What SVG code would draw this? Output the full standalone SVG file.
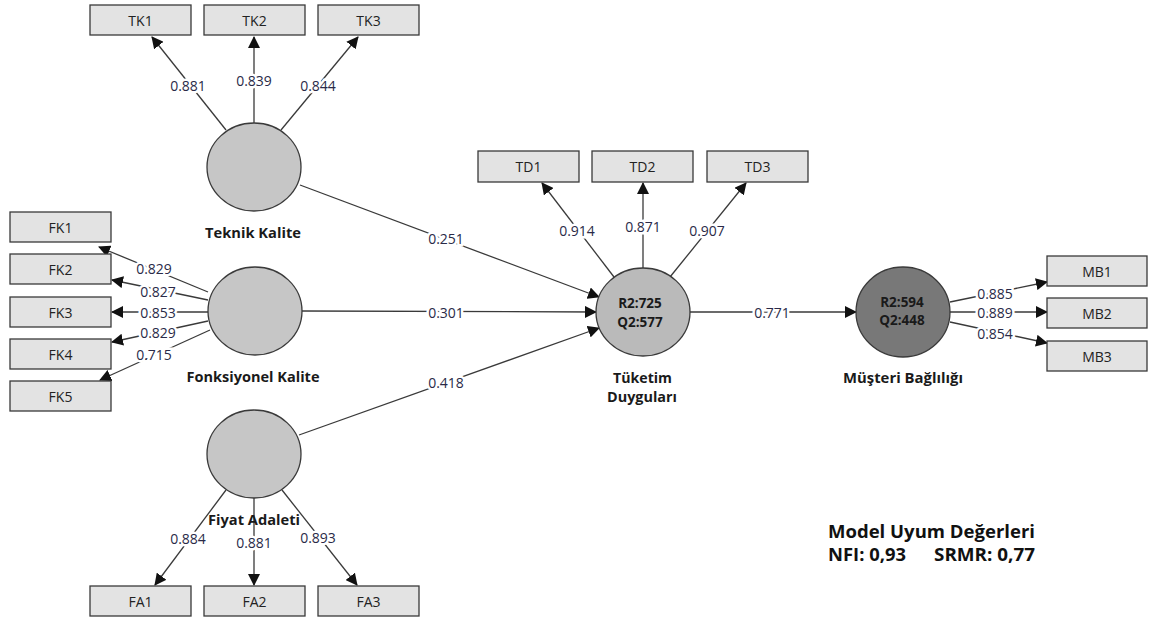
<svg xmlns="http://www.w3.org/2000/svg" width="1150" height="621" viewBox="0 0 1150 621">
<style>
.box{fill:#e3e3e3;stroke:#3a3a3a;stroke-width:1.3}
.bt{font-family:"Open Sans","Noto Sans",sans-serif;font-size:14px;fill:#222;text-anchor:middle;dominant-baseline:central}
.lv{fill:#c6c6c6;stroke:#3a3a3a;stroke-width:1.3}
.lvt{fill:#bababa;stroke:#3a3a3a;stroke-width:1.3}
.lvd{fill:#787878;stroke:#3a3a3a;stroke-width:1.3}
.nl{font-family:"Open Sans","Noto Sans",sans-serif;font-size:14px;font-weight:bold;fill:#1a1a1a;text-anchor:middle;dominant-baseline:central}
.rq{font-family:"Open Sans","Noto Sans",sans-serif;font-size:13.5px;font-weight:bold;fill:#1a1a1a;text-anchor:middle;dominant-baseline:central}
.ln{stroke:#3a3a3a;stroke-width:1.3;fill:none;marker-end:url(#ah)}
.lb{font-family:"Open Sans","Noto Sans",sans-serif;font-size:14px;fill:#2a2a48;text-anchor:middle;dominant-baseline:central;stroke:#fff;stroke-width:5;paint-order:stroke}
.fit{font-family:"Open Sans","Noto Sans",sans-serif;font-size:17px;font-weight:bold;fill:#111}
</style>
<defs>
<marker id="ah" markerUnits="userSpaceOnUse" markerWidth="12" markerHeight="12" viewBox="0 0 12 12" refX="11" refY="6" orient="auto">
<path d="M0,0 L12,6 L0,12 z" fill="#111"/>
</marker>
</defs>
<rect width="1150" height="621" fill="#fff"/>

<g id="connectors">
<line class="ln" x1="226" y1="130" x2="152" y2="37"/>
<line class="ln" x1="254" y1="123" x2="254" y2="37"/>
<line class="ln" x1="281" y1="130" x2="358" y2="37"/>
<line class="ln" x1="208" y1="292" x2="99" y2="247"/>
<line class="ln" x1="208" y1="300" x2="112" y2="280"/>
<line class="ln" x1="208" y1="312" x2="112" y2="312"/>
<line class="ln" x1="208" y1="321" x2="112" y2="342"/>
<line class="ln" x1="210" y1="330" x2="100" y2="380"/>
<line class="ln" x1="226" y1="490" x2="155" y2="585"/>
<line class="ln" x1="254" y1="497" x2="254" y2="585"/>
<line class="ln" x1="282" y1="490" x2="357" y2="585"/>
<line class="ln" x1="614" y1="277" x2="542" y2="183"/>
<line class="ln" x1="643" y1="269" x2="643" y2="183"/>
<line class="ln" x1="670" y1="277" x2="746" y2="183"/>
<line class="ln" x1="300" y1="185" x2="599" y2="297"/>
<line class="ln" x1="302" y1="311" x2="596" y2="312"/>
<line class="ln" x1="299" y1="435" x2="599" y2="328"/>
<line class="ln" x1="690" y1="312" x2="856" y2="312"/>
<line class="ln" x1="950" y1="302" x2="1047" y2="282"/>
<line class="ln" x1="950" y1="312" x2="1047" y2="312"/>
<line class="ln" x1="950" y1="322" x2="1047" y2="343"/>
<text class="lb" x="188" y="85">0.881</text>
<text class="lb" x="254" y="80">0.839</text>
<text class="lb" x="318" y="85">0.844</text>
<text class="lb" x="154" y="268">0.829</text>
<text class="lb" x="158" y="291">0.827</text>
<text class="lb" x="158" y="312">0.853</text>
<text class="lb" x="158" y="332">0.829</text>
<text class="lb" x="154" y="354">0.715</text>
<text class="lb" x="188" y="538">0.884</text>
<text class="lb" x="254" y="542">0.881</text>
<text class="lb" x="318" y="537">0.893</text>
<text class="lb" x="577" y="230">0.914</text>
<text class="lb" x="643" y="226">0.871</text>
<text class="lb" x="707" y="230">0.907</text>
<text class="lb" x="446" y="238">0.251</text>
<text class="lb" x="446" y="312">0.301</text>
<text class="lb" x="446" y="382">0.418</text>
<text class="lb" x="772" y="312">0.771</text>
<text class="lb" x="995" y="293">0.885</text>
<text class="lb" x="995" y="312">0.889</text>
<text class="lb" x="995" y="333">0.854</text>
</g>

<g id="TK1"><rect class="box" x="90" y="5" width="101" height="30"/><text class="bt" x="140.5" y="20">TK1</text></g>
<g id="TK2"><rect class="box" x="204" y="5" width="101" height="30"/><text class="bt" x="254.5" y="20">TK2</text></g>
<g id="TK3"><rect class="box" x="318" y="5" width="101" height="30"/><text class="bt" x="368.5" y="20">TK3</text></g>

<g id="FK1"><rect class="box" x="10" y="212" width="101" height="30"/><text class="bt" x="60.5" y="227">FK1</text></g>
<g id="FK2"><rect class="box" x="10" y="254" width="101" height="30"/><text class="bt" x="60.5" y="269">FK2</text></g>
<g id="FK3"><rect class="box" x="10" y="297" width="101" height="30"/><text class="bt" x="60.5" y="312">FK3</text></g>
<g id="FK4"><rect class="box" x="10" y="339" width="101" height="30"/><text class="bt" x="60.5" y="354">FK4</text></g>
<g id="FK5"><rect class="box" x="10" y="381" width="101" height="30"/><text class="bt" x="60.5" y="396">FK5</text></g>

<g id="FA1"><rect class="box" x="90" y="586" width="101" height="30"/><text class="bt" x="140.5" y="601">FA1</text></g>
<g id="FA2"><rect class="box" x="204" y="586" width="101" height="30"/><text class="bt" x="254.5" y="601">FA2</text></g>
<g id="FA3"><rect class="box" x="318" y="586" width="101" height="30"/><text class="bt" x="368.5" y="601">FA3</text></g>

<g id="TD1"><rect class="box" x="478" y="151" width="101" height="31"/><text class="bt" x="528.5" y="166.5">TD1</text></g>
<g id="TD2"><rect class="box" x="592" y="151" width="101" height="31"/><text class="bt" x="642.5" y="166.5">TD2</text></g>
<g id="TD3"><rect class="box" x="707" y="151" width="101" height="31"/><text class="bt" x="757.5" y="166.5">TD3</text></g>

<g id="MB1"><rect class="box" x="1047" y="256" width="100" height="30"/><text class="bt" x="1097" y="271">MB1</text></g>
<g id="MB2"><rect class="box" x="1047" y="298" width="100" height="30"/><text class="bt" x="1097" y="313">MB2</text></g>
<g id="MB3"><rect class="box" x="1047" y="341" width="100" height="30"/><text class="bt" x="1097" y="356">MB3</text></g>

<g id="TeknikKalite"><ellipse class="lv" cx="254" cy="167" rx="47" ry="44"/><text class="nl" x="253" y="232" textLength="96" lengthAdjust="spacingAndGlyphs">Teknik Kalite</text></g>
<g id="FonksiyonelKalite"><ellipse class="lv" cx="255" cy="311" rx="47" ry="44"/><text class="nl" x="253" y="376" textLength="133" lengthAdjust="spacingAndGlyphs">Fonksiyonel Kalite</text></g>
<g id="FiyatAdaleti"><ellipse class="lv" cx="254" cy="454" rx="47" ry="44"/><text class="nl" x="254" y="519" textLength="92" lengthAdjust="spacingAndGlyphs">Fiyat Adaleti</text></g>
<g id="TuketimDuygulari"><ellipse class="lvt" cx="643" cy="312" rx="47" ry="44"/><text class="rq" x="640" y="303">R2:725</text><text class="rq" x="640" y="322">Q2:577</text><text class="nl" x="642.5" y="377" textLength="59" lengthAdjust="spacingAndGlyphs">Tüketim</text><text class="nl" x="642" y="396" textLength="70" lengthAdjust="spacingAndGlyphs">Duyguları</text></g>
<g id="MusteriBagliligi"><ellipse class="lvd" cx="903" cy="312" rx="47" ry="45"/><text class="rq" x="902" y="302">R2:594</text><text class="rq" x="902" y="320">Q2:448</text><text class="nl" x="903" y="377" textLength="120" lengthAdjust="spacingAndGlyphs">Müşteri Bağlılığı</text></g>

<g id="fit">
<text class="fit" x="828" y="538" textLength="207" lengthAdjust="spacingAndGlyphs">Model Uyum Değerleri</text>
<text class="fit" x="828" y="561" textLength="78" lengthAdjust="spacingAndGlyphs">NFI: 0,93</text>
<text class="fit" x="934" y="561" textLength="101" lengthAdjust="spacingAndGlyphs">SRMR: 0,77</text>
</g>
</svg>
